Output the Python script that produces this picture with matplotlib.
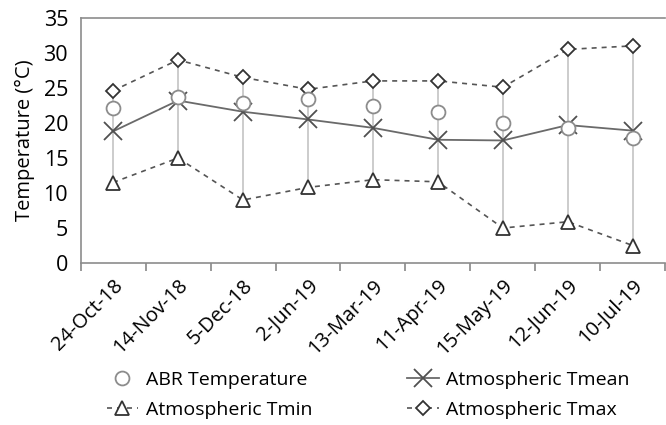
import matplotlib
matplotlib.use("Agg")
import matplotlib.pyplot as plt
import numpy as np

dates = ["24-Oct-18", "14-Nov-18", "5-Dec-18", "2-Jun-19", "13-Mar-19",
         "11-Apr-19", "15-May-19", "12-Jun-19", "10-Jul-19"]
abr_temp = [22.1, 23.7, 22.9, 23.4, 22.4, 21.5, 20.0, 19.3, 17.9]
t_mean = [18.8, 23.2, 21.6, 20.5, 19.3, 17.6, 17.5, 19.7, 18.9]
t_min = [11.5, 15.0, 9.0, 10.8, 11.9, 11.6, 5.0, 5.9, 2.5]
t_max = [24.6, 29.0, 26.5, 24.8, 26.0, 26.0, 25.1, 30.5, 31.0]


def main() -> None:
    plt.rcParams["font.family"] = ["Open Sans", "DejaVu Sans"]
    fig = plt.figure(figsize=(6.66, 4.25), dpi=100)
    ax = fig.add_axes([0.121, 0.381, 0.878, 0.577])

    x = np.arange(len(dates))

    # high-low lines
    ax.vlines(x, t_min, t_max, color="#c8c8c8", lw=1.3, zorder=1)

    h_abr, = ax.plot(x, abr_temp, ls="none", marker="o", ms=10,
                     mfc="white", mec="#8c8c8c", mew=1.3, zorder=4,
                     label="ABR Temperature")
    h_mean, = ax.plot(x, t_mean, color="#6a6a6a", lw=1.3, marker="x",
                      ms=13, mew=1.3, mec="#505050", zorder=3,
                      label="Atmospheric Tmean")
    h_min, = ax.plot(x, t_min, color="#555555", lw=1.2, ls=(0, (3, 3)),
                     marker="^", ms=10, mfc="white", mec="#333333",
                     mew=1.3, zorder=3, label="Atmospheric Tmin")
    h_max, = ax.plot(x, t_max, color="#555555", lw=1.2, ls=(0, (3, 3)),
                     marker="D", ms=7.5, mfc="white", mec="#333333",
                     mew=1.3, zorder=3, label="Atmospheric Tmax")

    ax.set_xlim(-0.5, len(dates) - 0.55)
    ax.set_ylim(0, 35)
    ax.set_yticks(range(0, 36, 5))
    ax.set_xticks(x)
    ax.set_xticklabels(dates, rotation=45, ha="right",
                       rotation_mode="anchor", fontsize=14.5)
    ax.set_xticks(np.arange(-0.5, len(dates), 1), minor=True)
    ax.tick_params(axis="x", which="major", length=0, pad=9)
    ax.tick_params(axis="x", which="minor", length=6, color="#888888",
                   direction="out", width=1.2)
    ax.tick_params(axis="y", length=0, labelsize=15.5, pad=9)
    ax.set_ylabel("Temperature (°C)", fontsize=14.5, labelpad=6)

    for s in ax.spines.values():
        s.set_color("#8c8c8c")
        s.set_linewidth(1.2)
    ax.spines["right"].set_visible(False)

    fig.legend([h_abr, h_min, h_mean, h_max],
               ["ABR Temperature", "Atmospheric Tmin",
                "Atmospheric Tmean", "Atmospheric Tmax"],
               ncol=2, frameon=False, fontsize=14,
               loc="center", bbox_to_anchor=(0.553, 0.071),
               columnspacing=4.9, handlelength=1.6, handletextpad=0.4,
               labelspacing=0.62)

    fig.savefig("out.png", dpi=100)


if __name__ == "__main__":
    main()
